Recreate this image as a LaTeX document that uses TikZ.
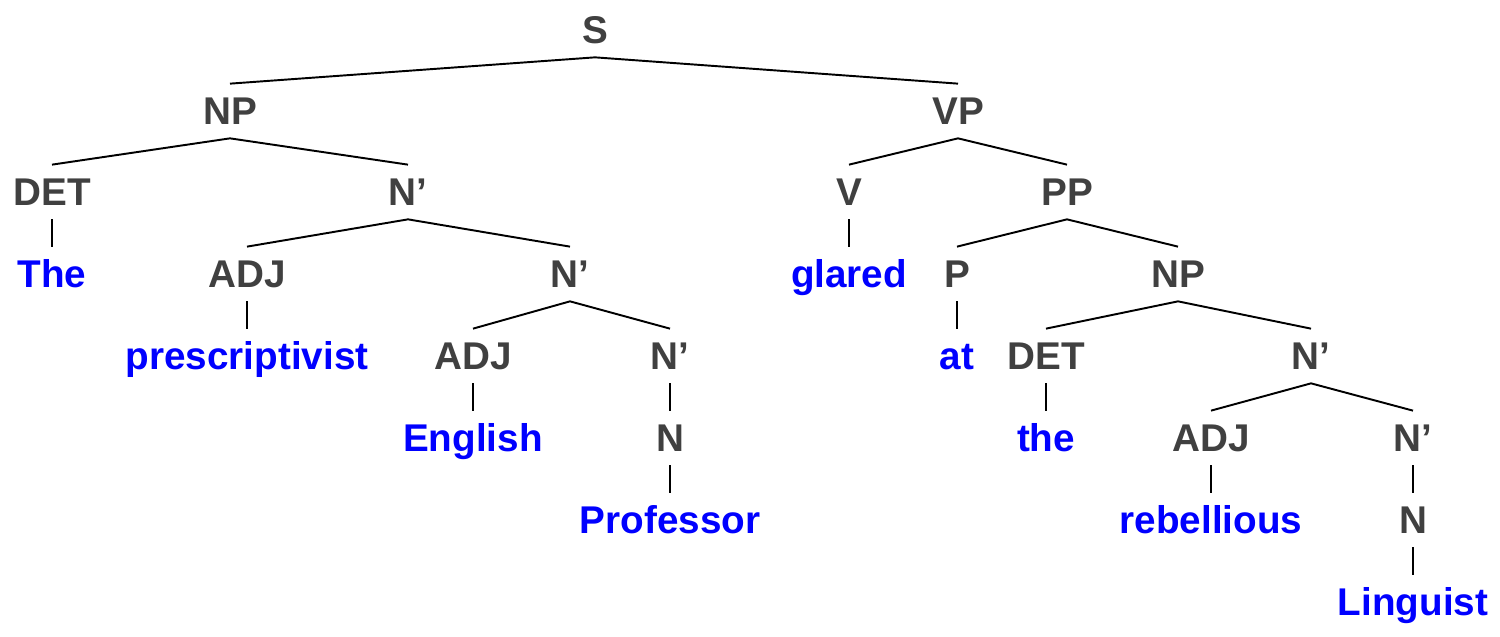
\documentclass[tikz,border=0pt]{standalone}
\usepackage{fontspec}
\setmainfont{Liberation Sans}
\usepackage{tikz}
\usetikzlibrary{positioning}
\usepackage{xcolor}
\definecolor{catgray}{RGB}{64,64,64}
\definecolor{wordblue}{RGB}{0,0,255}

\begin{document}
\begin{tikzpicture}[
    lab/.style={inner sep=0pt, minimum height=1.08cm, text height=0.556cm, text depth=0pt,
      font=\fontsize{22}{24}\selectfont\bfseries},
    cat/.style={lab, text=catgray},
    word/.style={lab, text=wordblue},
    branch/.style={line width=1.1pt, black}
  ]
  \useasboundingbox (0,0) rectangle (30,-12.74);
  % categories
  \node[cat] (S) at (11.9,-0.6) {S};
  \node[cat] (NP) at (4.6,-2.22) {NP};
  \node[cat] (VP) at (19.16,-2.22) {VP};
  \node[cat] (DET) at (1.04,-3.84) {DET};
  \node[cat] (Nbar) at (8.16,-3.84) {N’};
  \node[cat] (V) at (16.98,-3.84) {V};
  \node[cat] (PP) at (21.34,-3.84) {PP};
  \node[cat] (ADJ) at (4.94,-5.48) {ADJ};
  \node[cat] (Nbarb) at (11.4,-5.48) {N’};
  \node[cat] (P) at (19.14,-5.48) {P};
  \node[cat] (NPb) at (23.56,-5.48) {NP};
  \node[cat] (ADJb) at (9.46,-7.12) {ADJ};
  \node[cat] (Nbarc) at (13.4,-7.12) {N’};
  \node[cat] (DETb) at (20.92,-7.12) {DET};
  \node[cat] (Nbard) at (26.22,-7.12) {N’};
  \node[cat] (N) at (13.4,-8.76) {N};
  \node[cat] (ADJc) at (24.22,-8.76) {ADJ};
  \node[cat] (Nbare) at (28.26,-8.76) {N’};
  \node[cat] (Nb) at (28.26,-10.4) {N};
  % words
  \node[word] (the1) at (1.04,-5.48) {The};
  \node[word] (glared) at (16.98,-5.48) {glared};
  \node[word] (prescr) at (4.94,-7.12) {prescriptivist};
  \node[word] (at) at (19.14,-7.12) {at};
  \node[word] (english) at (9.46,-8.76) {English};
  \node[word] (the2) at (20.92,-8.76) {the};
  \node[word] (prof) at (13.4,-10.4) {Professor};
  \node[word] (rebel) at (24.22,-10.4) {rebellious};
  \node[word] (ling) at (28.26,-12.04) {Linguist};
  % branches
  \draw[branch] (NP.north) -- (S.south) -- (VP.north);
  \draw[branch] (DET.north) -- (NP.south) -- (Nbar.north);
  \draw[branch] (V.north) -- (VP.south) -- (PP.north);
  \draw[branch] (DET.south) -- (the1.north);
  \draw[branch] (ADJ.north) -- (Nbar.south) -- (Nbarb.north);
  \draw[branch] (V.south) -- (glared.north);
  \draw[branch] (P.north) -- (PP.south) -- (NPb.north);
  \draw[branch] (ADJ.south) -- (prescr.north);
  \draw[branch] (ADJb.north) -- (Nbarb.south) -- (Nbarc.north);
  \draw[branch] (P.south) -- (at.north);
  \draw[branch] (DETb.north) -- (NPb.south) -- (Nbard.north);
  \draw[branch] (ADJb.south) -- (english.north);
  \draw[branch] (Nbarc.south) -- (N.north);
  \draw[branch] (DETb.south) -- (the2.north);
  \draw[branch] (ADJc.north) -- (Nbard.south) -- (Nbare.north);
  \draw[branch] (N.south) -- (prof.north);
  \draw[branch] (ADJc.south) -- (rebel.north);
  \draw[branch] (Nbare.south) -- (Nb.north);
  \draw[branch] (Nb.south) -- (ling.north);
\end{tikzpicture}
\end{document}
